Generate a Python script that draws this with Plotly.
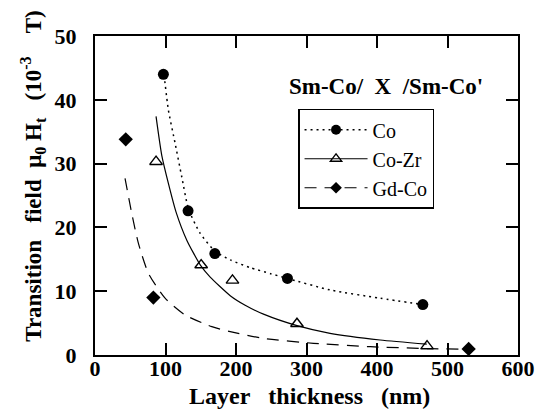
import plotly.graph_objects as go

# measured data points
co_x = [97, 132, 170, 273, 465]
co_y = [44.0, 22.6, 15.9, 12.0, 7.9]
cozr_x = [86.6, 150.6, 195, 286.5, 471]
cozr_y = [30.3, 14.1, 11.7, 4.9, 1.4]
gdco_x = [43.6, 82.8, 530]
gdco_y = [33.8, 9.0, 0.95]

# fitted curves
co_fit_x = [98, 104.1, 113.6, 123.1, 132.6, 149, 170, 192, 220, 249, 273, 333.4, 404.4, 465]
co_fit_y = [43.9, 38.4, 33.2, 27.9, 22.9, 19.1, 16.3, 14.9, 13.7, 12.75, 12.0, 10.2, 8.9, 7.9]
cozr_fit_x = [86.6, 94.7, 104.1, 115, 130.2, 150, 163.4, 191.8, 213, 239, 286.5, 333.4, 404.4, 470.6]
cozr_fit_y = [37.4, 31.3, 26.9, 22.4, 18.0, 14.0, 12.2, 9.3, 7.8, 6.4, 4.6, 3.4, 2.35, 1.7]
gdco_fit_x = [42.6, 52.1, 61.6, 75.8, 99.4, 127.8, 165.7, 191.8, 239, 310, 390.5, 475.7, 522]
gdco_fit_y = [27.7, 22.2, 17.5, 12.8, 8.9, 6.27, 4.44, 3.66, 2.6, 1.83, 1.3, 1.0, 0.9]

x_ticks = [0, 100, 200, 300, 400, 500, 600]
y_ticks = [0, 10, 20, 30, 40, 50]

SERIF = "Liberation Serif, Times New Roman, serif"


def sp(n):
    return "\u00a0" * n


DOT = "2px,4px"
DASH = "12px,8px"

fig = go.Figure()

# curves
fig.add_trace(go.Scatter(x=co_fit_x, y=co_fit_y, mode="lines", line=dict(color="black", width=1.5, dash=DOT),
                         line_shape="spline", line_smoothing=0.6, showlegend=False, hoverinfo="skip"))
fig.add_trace(go.Scatter(x=cozr_fit_x, y=cozr_fit_y, mode="lines", line=dict(color="black", width=1.2),
                         line_shape="spline", line_smoothing=0.6, showlegend=False, hoverinfo="skip"))
fig.add_trace(go.Scatter(x=gdco_fit_x, y=gdco_fit_y, mode="lines", line=dict(color="black", width=1.2, dash=DASH),
                         line_shape="spline", line_smoothing=0.6, showlegend=False, hoverinfo="skip"))

# points
fig.add_trace(go.Scatter(x=co_x, y=co_y, mode="markers", marker=dict(symbol="circle", size=11, color="black"),
                         showlegend=False))
fig.add_trace(go.Scatter(x=cozr_x, y=cozr_y, mode="markers",
                         marker=dict(symbol="triangle-up-open", size=11, color="black", line=dict(width=1.4)),
                         showlegend=False))
fig.add_trace(go.Scatter(x=gdco_x, y=gdco_y, mode="markers", marker=dict(symbol="diamond", size=11, color="black"),
                         showlegend=False))

# legend entries
fig.add_trace(go.Scatter(x=[None], y=[None], mode="lines+markers", name="Co",
                         line=dict(color="black", width=1.5, dash=DOT),
                         marker=dict(symbol="circle", size=10, color="black")))
fig.add_trace(go.Scatter(x=[None], y=[None], mode="lines+markers", name="Co-Zr",
                         line=dict(color="black", width=1.2),
                         marker=dict(symbol="triangle-up-open", size=10, color="black", line=dict(width=1.3))))
fig.add_trace(go.Scatter(x=[None], y=[None], mode="lines+markers", name="Gd-Co",
                         line=dict(color="black", width=1.2, dash=DASH),
                         marker=dict(symbol="diamond", size=9, color="black")))

axis_common = dict(
    showline=True, linecolor="black", linewidth=2, mirror="ticks",
    ticks="inside", ticklen=12, tickwidth=2, tickcolor="black",
    showgrid=False, zeroline=False, automargin=False, ticklabeloverflow="allow",
    tickfont=dict(family="Liberation Serif", size=22, color="black", weight="bold"),
)

fig.update_layout(
    width=535, height=416,
    margin=dict(l=95, r=17, t=36, b=61),
    paper_bgcolor="white", plot_bgcolor="white",
    font=dict(family=SERIF, color="black"),
    xaxis=dict(range=[0, 600], tickvals=x_ticks, ticklabelstandoff=-7, **axis_common),
    yaxis=dict(range=[0, 50], tickvals=y_ticks, ticklabelstandoff=12, **axis_common),
    legend=dict(x=0.48, y=0.772, xanchor="left", yanchor="top",
                bordercolor="black", borderwidth=1.5, bgcolor="white",
                font=dict(family=SERIF, size=20, color="black"),
                itemwidth=63, tracegroupgap=0),
    showlegend=True,
)

fig.add_annotation(text=f"Sm-Co/{sp(2)}X{sp(2)}/Sm-Co'", xref="paper", yref="paper", x=0.688, y=0.843,
                   xanchor="center", yanchor="middle",
                   showarrow=False, font=dict(family="Liberation Serif", size=23, color="black", weight="bold"))

fig.add_annotation(text=f"Layer{sp(3)}thickness{sp(3)}(nm)", xref="paper", yref="paper", x=0.508, y=-0.128,
                   xanchor="center", yanchor="middle",
                   showarrow=False, font=dict(family="Liberation Serif", size=24, color="black", weight="bold"))

fig.add_annotation(text=f"Transition{sp(3)}field{sp(2)}μ<sub>0</sub>{sp(1)}H<sub>t</sub>{sp(3)}(10<sup>-3</sup>{sp(4)}T)",
                   xref="paper", yref="paper", x=-0.148, y=0.56, textangle=-90,
                   xanchor="center", yanchor="middle",
                   showarrow=False, font=dict(family="Liberation Serif", size=23, color="black", weight="bold"))

fig.write_html("out.html")
